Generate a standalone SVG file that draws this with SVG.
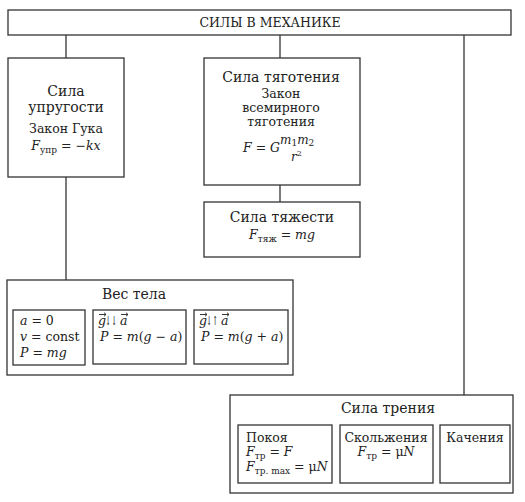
<svg xmlns="http://www.w3.org/2000/svg" width="525" height="502" viewBox="0 0 525 502">
<style>
.b{fill:#fff;stroke:#333;stroke-width:1.3}
.c{stroke:#333;stroke-width:1.3;fill:none}
.v{stroke:#222;stroke-width:0.9;fill:none}
text{font-family:"DejaVu Serif","Liberation Serif",serif;fill:#222}
.h{font-size:14px}
.t{font-size:12.5px}
.m{text-anchor:middle}
.i{font-style:italic}
.s{font-size:9px}
</style>
<rect width="525" height="502" fill="#fff"/>
<g id="connectors">
<line class="c" x1="66" y1="35" x2="66" y2="58"/>
<line class="c" x1="66" y1="177" x2="66" y2="280"/>
<line class="c" x1="280" y1="35" x2="280" y2="58"/>
<line class="c" x1="280" y1="185" x2="280" y2="202"/>
<line class="c" x1="464" y1="35" x2="464" y2="395"/>
</g>
<g id="root">
<rect class="b" x="8" y="10" width="503" height="25"/>
<text class="m" x="270" y="27" style="font-size:12.5px">СИЛЫ В МЕХАНИКЕ</text>
</g>
<g id="elastic">
<rect class="b" x="8" y="58" width="116" height="119"/>
<text class="h m" x="66" y="96">Сила</text>
<text class="h m" x="66" y="112">упругости</text>
<text class="t m" x="66" y="133">Закон Гука</text>
<text class="t m" x="66" y="150"><tspan class="i">F</tspan><tspan class="s" dy="3">упр</tspan><tspan dy="-3"> = −</tspan><tspan class="i">kx</tspan></text>
</g>
<g id="gravitation">
<rect class="b" x="204" y="58" width="156" height="127"/>
<text class="h m" x="281" y="82">Сила тяготения</text>
<text class="t m" x="281" y="98">Закон</text>
<text class="t m" x="281" y="112">всемирного</text>
<text class="t m" x="281" y="126">тяготения</text>
<text class="t" x="243" y="152"><tspan class="i">F</tspan> = <tspan class="i">G</tspan></text>
<text class="t" x="280" y="144" style="font-size:12px"><tspan class="i">m</tspan><tspan class="s" dy="2">1</tspan><tspan class="i" dy="-2">m</tspan><tspan class="s" dy="2">2</tspan></text>
<text class="t" x="291" y="161" style="font-size:12px"><tspan class="i">r</tspan><tspan class="s" dy="-5" style="font-size:8px">2</tspan></text>
</g>
<g id="gravity">
<rect class="b" x="204" y="202" width="156" height="55"/>
<text class="h m" x="282" y="222">Сила тяжести</text>
<text class="t m" x="282" y="239"><tspan class="i">F</tspan><tspan class="s" dy="3">тяж</tspan><tspan dy="-3"> = </tspan><tspan class="i">mg</tspan></text>
</g>
<g id="weight">
<rect class="b" x="7" y="280" width="286" height="95"/>
<text class="h m" x="134" y="299">Вес тела</text>
<rect class="b" x="13" y="310" width="72" height="55"/>
<text class="t" x="20" y="325"><tspan class="i">a</tspan> = 0</text>
<text class="t" x="20" y="341"><tspan class="i">v</tspan> = const</text>
<text class="t" x="20" y="357"><tspan class="i">P</tspan> = <tspan class="i">mg</tspan></text>
<rect class="b" x="93" y="310" width="93" height="54"/>
<text class="t i" x="98" y="325">g</text>
<text class="t" x="105" y="325" textLength="12" lengthAdjust="spacingAndGlyphs">↓↓</text>
<text class="t i" x="120" y="325">a</text>
<path class="v" d="M99,314.5h7m-2,-1.8l2,1.8l-2,1.8M121,314.5h7m-2,-1.8l2,1.8l-2,1.8"/>
<text class="t" x="100" y="341"><tspan class="i">P</tspan> = <tspan class="i">m</tspan>(<tspan class="i">g</tspan> − <tspan class="i">a</tspan>)</text>
<rect class="b" x="194" y="310" width="94" height="54"/>
<text class="t i" x="199" y="325">g</text>
<text class="t" x="206" y="325" textLength="12" lengthAdjust="spacingAndGlyphs">↓↑</text>
<text class="t i" x="221" y="325">a</text>
<path class="v" d="M200,314.5h7m-2,-1.8l2,1.8l-2,1.8M222,314.5h7m-2,-1.8l2,1.8l-2,1.8"/>
<text class="t" x="201" y="341"><tspan class="i">P</tspan> = <tspan class="i">m</tspan>(<tspan class="i">g</tspan> + <tspan class="i">a</tspan>)</text>
</g>
<g id="friction">
<rect class="b" x="230" y="395" width="283" height="98"/>
<text class="h m" x="388" y="413">Сила трения</text>
<rect class="b" x="238" y="425" width="94" height="58"/>
<text class="t" x="246" y="442">Покоя</text>
<text class="t" x="246" y="456"><tspan class="i">F</tspan><tspan class="s" dy="3">тр</tspan><tspan dy="-3"> = </tspan><tspan class="i">F</tspan></text>
<text class="t" x="246" y="471"><tspan class="i">F</tspan><tspan class="s" dy="3">тр. max</tspan><tspan dy="-3"> = μ</tspan><tspan class="i">N</tspan></text>
<rect class="b" x="340" y="425" width="93" height="58"/>
<text class="t m" x="386" y="442">Скольжения</text>
<text class="t m" x="386" y="456"><tspan class="i">F</tspan><tspan class="s" dy="3">тр</tspan><tspan dy="-3"> = μ</tspan><tspan class="i">N</tspan></text>
<rect class="b" x="440" y="425" width="70" height="58"/>
<text class="t m" x="475" y="442">Качения</text>
</g>
</svg>
